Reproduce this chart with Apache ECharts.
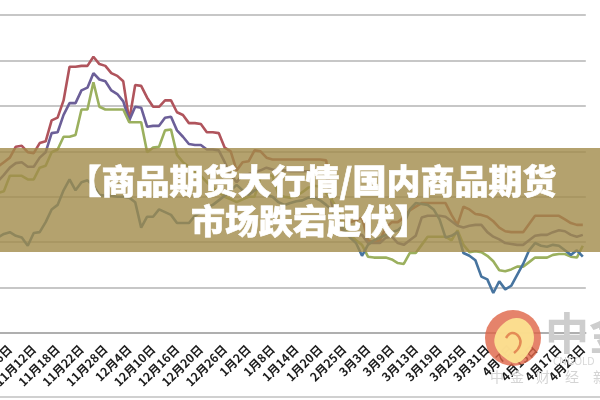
<!DOCTYPE html>
<html>
<head>
<meta charset="utf-8">
<style>
html, body { margin: 0; padding: 0; background: #fff; }
#chart { width: 600px; height: 400px; filter: blur(0.6px); }
</style>
<script src="https://cdn.jsdelivr.net/npm/echarts@6/dist/echarts.min.js"></script>
</head>
<body>
<div id="chart"></div>
<script>
// every 4th trading day carries a label, the first one is cropped off the picture
var tickLabels = ["", "11月6日", "11月12日", "11月18日", "11月22日", "11月28日", "12月4日", "12月10日", "12月16日", "12月20日", "12月26日", "1月2日", "1月8日", "1月14日", "1月20日", "2月25日", "3月3日", "3月9日", "3月13日", "3月19日", "3月25日", "3月31日", "4月7日", "4月13日", "4月17日", "4月23日"];

var redValues = [177,179,183,188,193,205,206,199,198,209,211,234,237,256,293,293,294,294,304,296,294,286,283,277,234,273,272,259,249,249,256,256,243,240,231,231,230,221,221,220,204,200,179,188,189,201,200,193,191,191,191,191,191,191,191,191,191,190,141,127,122,122,124,127,102,100,102,116,122,122,127,135,139,143,143,143,143,143,130,119,139,136,131,130,128,123,116,112,111,111,111,120,129,129,129,129,129,125,121,119,119];
var purpleValues = [160,164,167,174,182,187,188,183,183,193,199,220,221,240,253,253,267,270,286,279,277,267,263,255,234,249,248,227,228,228,237,238,223,216,208,207,207,202,202,201,188,174,166,174,175,177,179,182,180,179,179,178,178,178,178,178,177,174,141,119,111,109,107,108,99,99,99,105,106,99,97,102,107,127,129,129,129,128,123,118,116,118,119,119,111,106,103,99,98,97,97,102,107,108,108,111,113,112,108,106,108];
var greenValues = [149,151,154,156,173,173,173,169,169,182,184,199,202,216,216,218,246,246,276,249,246,246,246,246,232,232,232,199,204,205,223,224,196,188,183,177,173,166,160,155,150,147,144,147,150,150,171,174,173,152,150,149,151,155,160,162,161,154,146,135,119,108,102,97,84,83,83,83,81,77,76,88,88,97,106,106,106,106,102,113,97,89,90,89,85,79,69,68,70,73,73,78,83,83,83,86,87,87,84,83,96];
var blueValues = [96,100,105,109,111,107,105,96,110,111,122,136,141,157,169,157,166,168,162,152,151,151,150,150,149,144,116,128,128,136,133,130,121,121,121,129,133,138,141,146,151,157,163,157,152,157,160,152,150,144,141,143,145,146,149,149,146,141,135,124,113,105,99,85,97,102,105,108,111,113,119,136,143,142,141,136,125,105,107,111,88,85,80,62,59,44,57,48,52,64,76,91,99,96,95,97,96,91,86,91,84];

var titleLine1 = "【商品期货大行情/国内商品期货";
var titleLine2 = "市场跌宕起伏】";

var categories = redValues.map(function (v, i) {
    return i % 4 == 0 ? tickLabels[i / 4] : "";
});

function makeSeries(name, values, color) {
    return {
        name: name,
        type: "line",
        data: values,
        symbol: "none",
        lineStyle: { color: color, width: 2.6 }
    };
}

function watermarkChar(text, x) {
    return { type: "text", z: 39, x: x, y: 377, style: { text: text, fill: "#d4d4d4", font: "14px 'Noto Sans CJK SC'", textVerticalAlign: "middle" } };
}

var chart = echarts.init(document.getElementById("chart"));
chart.setOption({
    animation: false,
    backgroundColor: "#fff",
    // the original is cropped: the plot runs past the left edge of the picture
    grid: { left: -17, right: 14.2, top: 15, bottom: 67, outerBoundsMode: "none" },
    xAxis: {
        type: "category",
        data: categories,
        boundaryGap: true,
        axisLine: { lineStyle: { color: "#a8a8a8", width: 1.5 } },
        axisTick: { interval: 1, length: 4, lineStyle: { color: "#a8a8a8", width: 1 } },
        axisLabel: {
            interval: 3,
            rotate: 45,
            margin: 14,
            color: "#1c1c1c",
            fontSize: 12,
            fontWeight: "bold",
            fontFamily: "Noto Sans CJK SC"
        }
    },
    yAxis: {
        type: "value",
        min: 0,
        max: 350,
        interval: 50,
        axisLine: { show: false },
        axisTick: { show: false },
        axisLabel: { show: false },
        splitLine: { lineStyle: { color: "#b4b4b4", width: 1.5 } }
    },
    series: [
        makeSeries("red", redValues, "#b0545c"),
        makeSeries("purple", purpleValues, "#6c5f98"),
        makeSeries("green", greenValues, "#9bb05e"),
        makeSeries("blue", blueValues, "#47749f")
    ],
    graphic: [
        // title band over the plot
        { type: "rect", z: 50, shape: { x: 0, y: 148, width: 600, height: 104 }, style: { fill: "rgba(161,139,74,0.8)" } },
        { type: "text", z: 51, x: 312, y: 181, style: { text: titleLine1, fill: "#fff", stroke: "#fff", lineWidth: 0.6, font: "900 34px 'Noto Sans CJK SC'", textAlign: "center", textVerticalAlign: "middle" } },
        { type: "text", z: 51, x: 310, y: 221, style: { text: titleLine2, fill: "#fff", stroke: "#fff", lineWidth: 0.6, font: "900 34px 'Noto Sans CJK SC'", textAlign: "center", textVerticalAlign: "middle" } },
        // bottom frame of the original picture
        { type: "line", z: 1, shape: { x1: 0, y1: 397, x2: 600, y2: 397 }, style: { stroke: "#d0d0d0", lineWidth: 2 } },
        // watermark logo
        { type: "circle", z: 40, shape: { cx: 513, cy: 338, r: 28 }, style: { fill: "rgba(222,100,70,0.8)" } },
        { type: "polygon", z: 41, shape: { points: [[495, 336], [503, 324], [516, 318], [528, 323], [534, 337], [529, 352], [517, 363], [505, 358], [496, 348]], smooth: 0.4 }, style: { fill: "rgba(252,226,145,0.95)" } },
        { type: "polyline", z: 42, shape: { points: [[506, 338], [512, 333], [519, 337], [520, 345], [514, 353]], smooth: 0.5 }, style: { fill: "none", stroke: "rgba(225,130,80,0.9)", lineWidth: 2.5 } },
        { type: "text", z: 39, x: 545, y: 333, style: { text: "中金", fill: "#cdcdcd", font: "bold 44px 'Noto Sans CJK SC'", textVerticalAlign: "middle" } },
        { type: "text", z: 39, x: 553, y: 362, style: { text: "CNGOLD", fill: "#d8d8d8", font: "10px 'Noto Sans'", textVerticalAlign: "middle" } },
        watermarkChar("中", 490),
        watermarkChar("金", 510),
        watermarkChar("财", 536),
        watermarkChar("经", 565),
        watermarkChar("新", 593)
    ]
});
</script>
</body>
</html>
